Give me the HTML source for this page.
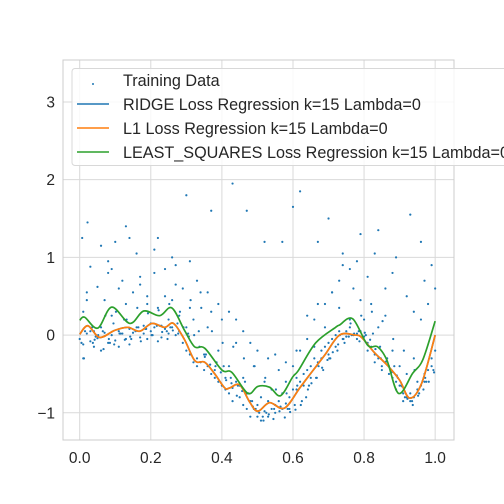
<!DOCTYPE html>
<html><head><meta charset="utf-8"><style>
body{margin:0;background:#fff;}
svg{display:block;font-family:"Liberation Sans","DejaVu Sans",sans-serif;}
</style></head><body>
<svg id="chart" width="504" height="504" viewBox="0 0 504 504" xmlns="http://www.w3.org/2000/svg">
<rect x="63" y="60" width="391" height="380" fill="#fff"/>
<g id="grid"></g>
<g id="ticks"></g>
<g id="marks"></g>
<rect x="63" y="60" width="391" height="380" fill="none" stroke="#cccccc" stroke-width="1"/>
<g>
<rect x="72" y="68.5" width="440" height="97" rx="3" fill="#fff" fill-opacity="0.8" stroke="#d8d8d8"/>
<circle cx="93" cy="84" r="1" fill="#1f77b4"/>
<text x="123" y="86" font-size="16.2" fill="#262626">Training Data</text>
<line x1="77" y1="104" x2="109" y2="104" stroke="#1f77b4" stroke-width="1.6"/>
<text x="123" y="110" font-size="16.2" fill="#262626">RIDGE Loss Regression k=15 Lambda=0</text>
<line x1="77" y1="128" x2="109" y2="128" stroke="#ff7f0e" stroke-width="1.6"/>
<text x="123" y="134" font-size="16.2" fill="#262626">L1 Loss Regression k=15 Lambda=0</text>
<line x1="77" y1="152" x2="109" y2="152" stroke="#2ca02c" stroke-width="1.6"/>
<text x="123" y="158" font-size="16.2" fill="#262626">LEAST_SQUARES Loss Regression k=15 Lambda=0</text>
</g>
</svg>
<script>
const xTicks=[0,0.2,0.4,0.6,0.8,1.0];
const xTickLabels=["0.0","0.2","0.4","0.6","0.8","1.0"];
const yTicks=[-1,0,1,2,3];
const yTickLabels=["\u22121","0","1","2","3"];
const lsX=[0,0.014,0.051,0.090,0.141,0.180,0.225,0.259,0.295,0.323,0.352,0.4,0.428,0.473,0.501,0.534,0.565,0.599,0.616,0.664,0.72,0.731,0.768,0.810,0.838,0.864,0.897,0.937,0.965,1.0];
const lsY=[0.19,0.23,0.09,0.36,0.15,0.31,0.25,0.35,0.06,-0.15,-0.17,-0.45,-0.48,-0.75,-0.66,-0.67,-0.78,-0.54,-0.45,-0.10,0.10,0.13,0.21,-0.13,-0.15,-0.32,-0.75,-0.49,-0.32,0.18];
const l1X=[0,0.023,0.056,0.098,0.135,0.169,0.203,0.239,0.264,0.295,0.324,0.352,0.380,0.408,0.422,0.450,0.478,0.501,0.534,0.576,0.619,0.647,0.689,0.731,0.774,0.793,0.830,0.866,0.900,0.928,0.962,1.0];
const l1Y=[0.01,0.12,-0.03,0.06,0.10,0.05,0.15,0.10,0.15,-0.06,-0.33,-0.35,-0.50,-0.68,-0.68,-0.64,-0.86,-0.98,-0.87,-0.94,-0.68,-0.51,-0.26,0.0,0.0,-0.03,-0.23,-0.39,-0.58,-0.81,-0.62,0.0];
const ridgeX=l1X.slice();
const ridgeY=l1Y.slice();
const dataX=[0.00,0.01,0.01,0.02,0.02,0.03,0.03,0.04,0.04,0.05,0.05,0.06,0.06,0.07,0.07,0.08,0.08,0.09,0.09,0.10,0.10,0.11,0.11,0.12,0.12,0.13,0.13,0.14,0.14,0.15,0.15,0.16,0.16,0.17,0.17,0.18,0.18,0.19,0.19,0.20,0.20,0.21,0.21,0.22,0.22,0.23,0.23,0.24,0.24,0.25,0.25,0.26,0.26,0.27,0.27,0.28,0.28,0.29,0.29,0.30,0.30,0.31,0.31,0.32,0.32,0.33,0.33,0.34,0.34,0.35,0.35,0.36,0.36,0.37,0.37,0.38,0.38,0.39,0.39,0.40,0.40,0.41,0.41,0.42,0.42,0.43,0.43,0.44,0.44,0.45,0.45,0.46,0.46,0.47,0.47,0.48,0.48,0.49,0.49,0.50,0.50,0.51,0.51,0.52,0.52,0.53,0.53,0.54,0.54,0.55,0.55,0.56,0.56,0.57,0.57,0.58,0.58,0.59,0.59,0.60,0.60,0.61,0.61,0.62,0.62,0.63,0.63,0.64,0.64,0.65,0.65,0.66,0.66,0.67,0.67,0.68,0.68,0.69,0.69,0.70,0.70,0.71,0.71,0.72,0.72,0.73,0.73,0.74,0.74,0.75,0.75,0.76,0.76,0.77,0.77,0.78,0.78,0.79,0.79,0.80,0.80,0.81,0.81,0.82,0.82,0.83,0.83,0.84,0.84,0.85,0.85,0.86,0.86,0.87,0.87,0.88,0.88,0.89,0.89,0.90,0.90,0.91,0.91,0.92,0.92,0.93,0.93,0.94,0.94,0.95,0.95,0.96,0.96,0.97,0.97,0.98,0.98,0.99,0.99,1.00,1.00,
0.005,0.015,0.035,0.045,0.065,0.085,0.095,0.115,0.125,0.145,0.165,0.185,0.205,0.225,0.245,0.255,0.275,0.305,0.335,0.355,0.385,0.405,0.425,0.445,0.465,0.475,0.485,0.495,0.505,0.515,0.525,0.545,0.565,0.585,0.605,0.625,0.645,0.665,0.685,0.705,0.725,0.745,0.765,0.785,0.805,0.825,0.845,0.865,0.885,0.895,0.905,0.915,0.935,0.955,0.975,0.995,
0.01,0.03,0.06,0.09,0.11,0.14,0.17,0.19,0.21,0.24,0.27,0.31,0.33,0.36,0.39,0.42,0.44,0.46,0.48,0.50,0.53,0.55,0.58,0.61,0.64,0.66,0.69,0.71,0.73,0.76,0.78,0.81,0.83,0.86,0.88,0.92,0.94,0.97,0.99,
0.02,0.08,0.13,0.22,0.26,0.30,0.37,0.43,0.47,0.52,0.57,0.60,0.62,0.67,0.70,0.74,0.79,0.84,0.89,0.93,0.96,
0.007,0.022,0.037,0.052,0.067,0.082,0.097,0.112,0.127,0.142,0.157,0.172,0.187,0.202,0.217,0.232,0.247,0.262,0.277,0.292,0.307,0.322,0.337,0.352,0.367,0.382,0.397,0.412,0.427,0.442,0.457,0.472,0.487,0.502,0.517,0.532,0.547,0.562,0.577,0.592,0.607,0.622,0.637,0.652,0.667,0.682,0.697,0.712,0.727,0.742,0.757,0.772,0.787,0.802,0.817,0.832,0.847,0.862,0.877,0.892,0.907,0.922,0.937,0.952,0.967,0.982,0.997,
0.012,0.042,0.072,0.102,0.132,0.162,0.192,0.222,0.252,0.282,0.312,0.342,0.372,0.402,0.432,0.462,0.492,0.522,0.552,0.582,0.612,0.642,0.672,0.702,0.732,0.762,0.792,0.822,0.852,0.882,0.912,0.942,0.972];
const dataY=[-0.05,0.30,-0.12,0.55,0.02,-0.08,0.88,0.05,-0.15,0.62,-0.04,0.10,-0.20,0.45,0.03,-0.10,0.95,0.00,0.25,-0.07,1.20,0.05,-0.15,0.70,0.02,-0.05,0.40,0.08,-0.12,0.55,0.03,0.10,1.05,-0.03,0.65,0.12,0.02,0.40,-0.05,0.15,0.05,0.80,0.10,-0.08,0.35,0.12,-0.03,0.50,0.08,0.20,0.02,0.45,0.10,0.90,0.00,0.25,0.05,0.60,-0.10,0.10,-0.20,0.35,-0.25,-0.35,0.20,-0.30,-0.40,0.55,-0.35,-0.25,-0.45,0.10,-0.40,-0.50,0.30,-0.55,-0.45,-0.60,-0.20,-0.65,0.20,-0.70,-0.55,-0.75,-0.40,-0.68,-0.85,-0.60,-0.10,-0.80,-0.65,-0.90,-0.55,-0.95,-0.75,-1.05,-0.85,-0.95,-0.40,-1.05,-0.90,-1.10,-0.80,-0.98,-0.60,-1.05,-0.85,-0.95,-0.70,-0.90,-1.00,-0.85,-0.45,-0.95,-0.75,-0.88,-0.60,-0.80,-0.95,-0.70,-0.40,-0.70,-0.55,-0.60,-0.20,-0.50,-0.65,-0.45,0.25,-0.40,-0.55,-0.30,-0.15,-0.35,0.40,-0.20,-0.30,-0.15,0.10,-0.10,-0.25,-0.05,0.55,0.00,-0.15,0.05,0.35,-0.05,0.90,0.05,-0.02,0.10,0.20,0.00,0.60,0.02,-0.05,0.05,0.45,-0.02,0.20,-0.10,-0.20,-0.15,0.40,-0.25,-0.35,-0.30,0.10,-0.40,-0.45,-0.35,0.25,-0.50,-0.40,-0.55,-0.20,-0.60,-0.70,-0.65,-0.40,-0.75,-0.85,-0.80,-0.50,-0.85,-0.75,-0.80,-0.30,-0.70,-0.60,-0.65,0.20,-0.60,-0.50,-0.45,0.40,-0.30,-0.40,-0.20,0.60,-0.10,0.05,
0.10,-0.02,0.05,-0.10,0.15,0.02,0.20,-0.05,0.10,0.08,0.00,0.12,0.05,0.10,0.15,0.02,0.05,-0.25,-0.35,-0.40,-0.55,-0.65,-0.60,-0.75,-0.85,-0.95,-1.00,-1.05,-1.00,-1.08,-0.92,-0.95,-0.90,-0.85,-0.65,-0.55,-0.45,-0.30,-0.20,-0.10,0.00,0.05,0.00,0.02,-0.15,-0.30,-0.40,-0.55,-0.65,-0.80,-0.85,-0.75,-0.60,-0.45,-0.30,0.05,
1.15,0.85,0.60,1.25,0.75,0.50,1.10,0.85,0.65,0.95,0.70,0.55,0.40,0.30,0.20,0.05,-0.10,-0.20,-0.30,-0.25,-0.35,-0.20,-0.05,0.20,0.40,0.55,0.70,0.85,0.95,0.75,1.05,0.60,0.80,0.50,0.30,0.70,0.90,0.45,0.80,
1.40,1.25,1.00,1.80,1.60,1.95,1.60,1.20,1.20,1.65,1.85,1.20,1.50,1.05,1.30,1.35,1.00,1.55,1.20,1.25,1.45,
-0.10,0.00,-0.18,-0.05,-0.12,0.02,-0.06,-0.02,0.05,-0.08,0.08,0.00,0.12,0.04,-0.05,0.06,0.02,0.10,-0.02,0.00,-0.15,-0.28,-0.38,-0.40,-0.48,-0.58,-0.62,-0.78,-0.72,-0.75,-0.92,-0.98,-1.10,-1.02,-0.95,-0.98,-1.06,-0.99,-0.96,-0.90,-0.80,-0.62,-0.55,-0.42,-0.32,-0.22,-0.12,-0.05,-0.02,0.02,-0.08,0.03,-0.06,-0.18,-0.30,-0.34,-0.48,-0.52,-0.66,-0.82,-0.90,-0.78,-0.70,-0.60,-0.48,-0.30,-0.06,
0.25,0.30,0.20,0.35,0.28,0.32,0.40,0.30,0.45,0.35,0.05,-0.10,-0.15,-0.30,-0.40,-0.55,-0.70,-0.75,-0.65,-0.70,-0.40,-0.30,0.00,0.15,0.25,0.30,0.18,-0.05,-0.20,-0.45,-0.55,-0.35,-0.10];
const X0=63,X1=454,Y0=60,Y1=440;
const xMin=-0.047,xMax=1.053,yMin=-1.35,yMax=3.54;
function sx(v){return X0+(v-xMin)/(xMax-xMin)*(X1-X0);}
function sy(v){return Y1-(v-yMin)/(yMax-yMin)*(Y1-Y0);}
const NS="http://www.w3.org/2000/svg";
const grid=document.getElementById('grid'),ticks=document.getElementById('ticks'),marks=document.getElementById('marks');
xTicks.forEach((t,i)=>{
 const l=document.createElementNS(NS,'line');
 
 
 l.setAttribute('x1',sx(t));l.setAttribute('x2',sx(t));l.setAttribute('y1',Y0);l.setAttribute('y2',Y1);
 l.setAttribute('stroke','#d9d9d9');grid.appendChild(l);
 const tx=document.createElementNS(NS,'text');
 
 
 tx.setAttribute('x',sx(t));tx.setAttribute('y',463);tx.setAttribute('text-anchor','middle');
 tx.setAttribute('font-size','15.5');tx.setAttribute('fill','#262626');tx.textContent=xTickLabels[i];ticks.appendChild(tx);
});
yTicks.forEach((t,i)=>{
 const l=document.createElementNS(NS,'line');
 
 
 l.setAttribute('x1',X0);l.setAttribute('x2',X1);l.setAttribute('y1',sy(t));l.setAttribute('y2',sy(t));
 l.setAttribute('stroke','#d9d9d9');grid.appendChild(l);
 const tx=document.createElementNS(NS,'text');
 
 
 tx.setAttribute('x',55);tx.setAttribute('y',sy(t)+5.5);tx.setAttribute('text-anchor','end');
 tx.setAttribute('font-size','15.5');tx.setAttribute('fill','#262626');tx.textContent=yTickLabels[i];ticks.appendChild(tx);
});
dataX.forEach((x,i)=>{
 const c=document.createElementNS(NS,'circle');
 
 
 c.setAttribute('cx',sx(x));c.setAttribute('cy',sy(dataY[i]));c.setAttribute('r',1.1);c.setAttribute('fill','#1f77b4');
 marks.appendChild(c);
});
function smoothPath(xs,ys){
 const p=xs.map((x,i)=>[sx(x),sy(ys[i])]);
 let d='M'+p[0][0]+','+p[0][1];
 for(let i=0;i<p.length-1;i++){
  const p0=p[i-1]||p[i],p1=p[i],p2=p[i+1],p3=p[i+2]||p2;
  const c1=[p1[0]+(p2[0]-p0[0])/6,p1[1]+(p2[1]-p0[1])/6];
  const c2=[p2[0]-(p3[0]-p1[0])/6,p2[1]-(p3[1]-p1[1])/6];
  d+=' C'+c1[0]+','+c1[1]+' '+c2[0]+','+c2[1]+' '+p2[0]+','+p2[1];
 }
 return d;
}
[[ridgeX,ridgeY,'#1f77b4','ridge-line'],[l1X,l1Y,'#ff7f0e','l1-line'],[lsX,lsY,'#2ca02c','least-squares-line']].forEach(s=>{
 const p=document.createElementNS(NS,'path');
 
 
 p.setAttribute('d',smoothPath(s[0],s[1]));p.setAttribute('fill','none');p.setAttribute('stroke',s[2]);p.setAttribute('stroke-width','1.7');
 marks.appendChild(p);
});
</script>
</body></html>
